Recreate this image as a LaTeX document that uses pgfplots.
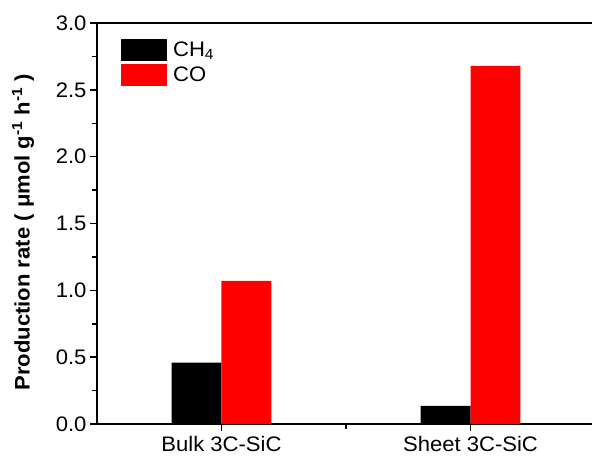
\documentclass[border=0pt]{standalone}
\usepackage{pgfplots}
\pgfplotsset{compat=1.18}
\usepackage{fontspec}
\setmainfont{Liberation Sans}[FakeStretch=1.05]
\begin{document}
\begin{tikzpicture}
\begin{axis}[
  scale only axis, width=498pt, height=401pt,
  xmin=-0.5, xmax=1.5, ymin=0, ymax=3,
  axis x line*=box, axis y line*=left,
  xtick pos=left,
  ybar, bar width=0.2,
  xtick={0,1}, xticklabels={Bulk 3C-SiC, Sheet 3C-SiC},
  minor xtick={0.5},
  ytick={0,0.5,...,3}, minor ytick={0.25,0.75,...,2.75},
  tick align=outside,
  major tick length=7pt, minor tick length=4.5pt,
  every tick/.append style={line width=1.5pt, black},
  axis line style={line width=1.6pt},
  /pgf/number format/assume math mode=true,
  yticklabel style={/pgf/number format/.cd, fixed, fixed zerofill, precision=1},
  xticklabel style={yshift=-2pt},
  tick label style={font=\fontsize{21}{23}\selectfont},
  ylabel={\bfseries Production rate ( μmol g\textsuperscript{-1} h\textsuperscript{-1} )},
  ylabel style={font=\fontsize{21}{23}\selectfont, at={(axis description cs:-0.1486,0.478)}, anchor=center},
  legend style={at={(axis description cs:0.048,0.96)}, anchor=north west, draw=none, fill=none,
    inner sep=0pt, row sep=3pt, font=\fontsize{21}{23}\selectfont, nodes={inner sep=0pt},
    /tikz/every odd column/.append style={column sep=6pt}},
  legend image code/.code={\fill[#1] (0pt,-11pt) rectangle (46pt,11pt);},
  legend cell align=left,
]
\addplot[fill=black, draw=none, bar shift=-0.1] coordinates {(0,0.46) (1,0.135)};
\addplot[fill=red, draw=none, bar shift=0.1] coordinates {(0,1.07) (1,2.68)};
\legend{CH\textsubscript{4}, CO}
\end{axis}
\pgfresetboundingbox
\path[use as bounding box] (-97pt,-35pt) rectangle (495pt,424pt);
\end{tikzpicture}
\end{document}
